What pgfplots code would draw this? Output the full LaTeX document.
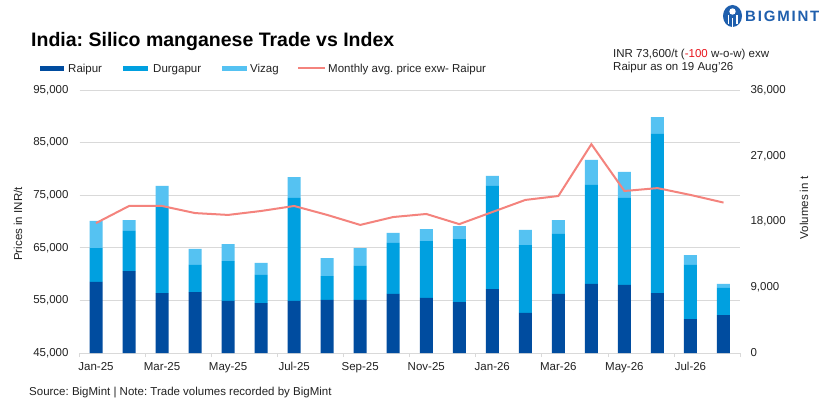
\documentclass[border=0pt]{standalone}
\usepackage{pgfplots}
\pgfplotsset{compat=1.18}
\usepackage{pgfplotstable}
\usepackage{fontspec}
\setmainfont{Liberation Sans}
\frenchspacing
\definecolor{raipur}{HTML}{004C9F}
\definecolor{durg}{HTML}{00A0E0}
\definecolor{vizag}{HTML}{55C2F2}
\definecolor{pline}{HTML}{F4837D}
\definecolor{gridc}{HTML}{D9D9D9}
\definecolor{txt}{HTML}{222222}
\definecolor{logob}{HTML}{1F5FAD}
\definecolor{neg}{HTML}{E8131B}

\pgfplotstableread{
x r d v price
0 9720 4650 3700 69700
1 11220 5480 1500 72950
2 8210 11820 2830 72950
3 8350 3700 2190 71600
4 7120 5470 2330 71250
5 6840 3840 1640 72000
6 7120 14100 2870 72950
7 7260 3280 2460 71250
8 7260 4650 2460 69350
9 8080 6980 1370 70850
10 7530 7800 1640 71430
11 6980 8620 1780 69500
12 8760 14100 1370 71800
13 5480 9300 2060 74100
14 8080 8210 1910 74850
15 9450 13550 3420 84700
16 9310 11910 3560 75800
17 8210 21770 2320 76350
18 4650 7400 1360 75050
19 5200 3700 550 73600
}\data

\newcommand{\fs}[1]{\fontsize{#1}{#1}\selectfont}

\pgfplotsset{common/.style={at={(79.5pt,54pt)}, anchor=south west, scale only axis,
  width=660.5pt, height=263pt, xmin=-0.5, xmax=19.5, scaled y ticks=false,
  /pgf/number format/assume math mode=true,
  /pgf/number format/.cd, fixed, 1000 sep={,}, /pgfplots/.cd}}

\begin{document}
\begin{tikzpicture}
\path[use as bounding box, fill=white] (0pt,0pt) rectangle (829pt,407pt);

% axis 1: left axis with grid and x ticks
\begin{axis}[common,
  ymin=45000, ymax=95000,
  ytick={45000,55000,...,95000},
  ymajorgrids, grid style={gridc, line width=0.8pt},
  axis y line*=left, axis x line*=bottom,
  y axis line style={draw=none},
  x axis line style={gridc, line width=0.8pt},
  xtick={0,2,...,18},
  xticklabels={Jan-25,Mar-25,May-25,Jul-25,Sep-25,Nov-25,Jan-26,Mar-26,May-26,Jul-26},
  major tick length=0pt,
  minor xtick={-0.5,1.5,...,19.5}, minor tick length=4pt, tick align=outside,
  minor tick style={gridc, line width=0.8pt},
  yticklabel style={font=\fs{11.5}, text=txt, xshift=-7.5pt},
  xticklabel style={font=\fs{11.5}, text=txt, yshift=-6pt},
]
\addplot[draw=none, forget plot] coordinates {(0,50000)};
\end{axis}

% axis 2: bars on right axis
\begin{axis}[common,
  ymin=0, ymax=36000,
  ytick={0,9000,...,36000},
  axis y line*=right, axis x line=none,
  y axis line style={draw=none},
  xtick=\empty, major tick length=0pt,
  ybar stacked, bar width=13pt,
  yticklabel style={font=\fs{11.5}, text=txt, xshift=7pt},
]
\addplot[fill=raipur, draw=none] table[x=x,y=r]{\data};
\addplot[fill=durg, draw=none] table[x=x,y=d]{\data};
\addplot[fill=vizag, draw=none] table[x=x,y=v]{\data};
\end{axis}

% axis 3: price line
\begin{axis}[common, ymin=45000, ymax=95000, hide axis]
\addplot[pline, line width=2pt, no marks] table[x=x,y=price]{\data};
\end{axis}

% axis titles
\node[rotate=90, font=\fs{11.5}, text=txt] at (18pt,183pt) {Prices in INR/t};
\node[rotate=90, font=\fs{11.5}, text=txt] at (804pt,199pt) {Volumes in t};

% title
\node[anchor=base west, inner sep=0, font=\bfseries\fs{19.5}, text=black] at (31pt,360.3pt) {India: Silico manganese Trade vs Index};

% legend
\fill[raipur] (40pt,336.2pt) rectangle (64pt,341.2pt);
\node[anchor=base west, inner sep=0, font=\fs{11.5}, text=txt] at (68pt,334pt) {Raipur};
\fill[durg] (123pt,336.2pt) rectangle (148pt,341.2pt);
\node[anchor=base west, inner sep=0, font=\fs{11.5}, text=txt] at (153pt,334pt) {Durgapur};
\fill[vizag] (222pt,336.2pt) rectangle (247pt,341.2pt);
\node[anchor=base west, inner sep=0, font=\fs{11.5}, text=txt] at (250pt,334pt) {Vizag};
\draw[pline, line width=2pt] (298pt,338.7pt) -- (325pt,338.7pt);
\node[anchor=base west, inner sep=0, font=\fs{11.5}, text=txt] at (328pt,334pt) {Monthly avg. price exw- Raipur};

% annotation
\node[anchor=base west, inner sep=0, font=\fs{11.5}, text=txt] at (613pt,349pt) {INR 73,600/t (\textcolor{neg}{-100} w-o-w) exw};
\node[anchor=base west, inner sep=0, font=\fs{11.5}, text=txt] at (613pt,336.5pt) {Raipur as on 19 Aug'26};

% source
\node[anchor=base west, inner sep=0, font=\fs{11.5}, text=txt] at (29pt,11.5pt) {Source: BigMint | Note: Trade volumes recorded by BigMint};

% logo
\fill[logob] (732.5pt,391pt) ellipse (9.5pt and 11pt);
\fill[white] (732.5pt,395.5pt) circle (3.2pt);
\fill[white] (727.5pt,392pt) rectangle (729pt,383pt);
\fill[white] (736pt,392pt) rectangle (737.5pt,383pt);
\fill[white] (731.7pt,389pt) rectangle (733.3pt,380pt);
\node[anchor=base west, inner sep=0, font=\bfseries\fs{15}\addfontfeature{LetterSpace=12}, text=logob] at (745pt,385.5pt) {BIGMINT};
\end{tikzpicture}
\end{document}
